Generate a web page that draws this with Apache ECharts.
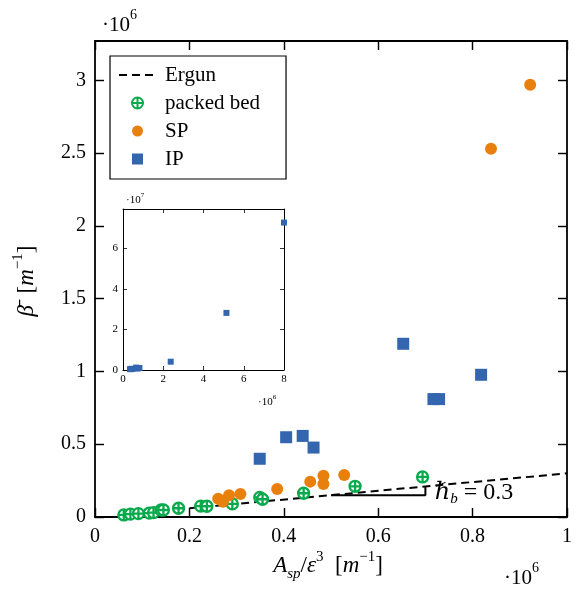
<!DOCTYPE html>
<html><head><meta charset="utf-8">
<script src="https://cdn.jsdelivr.net/npm/echarts@6/dist/echarts.min.js"></script>
<style>html,body{margin:0;padding:0;background:#fff}#c{width:575px;height:592px}</style>
</head><body><div id="c"></div>
<script>
// ---- data (main plot units: x ×10^6, y ×10^6) ----
const packedX = [0.061, 0.075, 0.092, 0.115, 0.124, 0.140, 0.145, 0.177, 0.224, 0.237, 0.291, 0.349, 0.355, 0.442, 0.551, 0.694];
const packedY = [0.014, 0.020, 0.023, 0.027, 0.030, 0.048, 0.048, 0.060, 0.075, 0.074, 0.090, 0.135, 0.122, 0.163, 0.211, 0.275];
const spX = [0.261, 0.271, 0.284, 0.308, 0.386, 0.456, 0.484, 0.484, 0.528, 0.839, 0.922];
const spY = [0.126, 0.105, 0.149, 0.158, 0.193, 0.243, 0.284, 0.227, 0.289, 2.53, 2.97];
const ipX = [0.349, 0.405, 0.440, 0.463, 0.653, 0.717, 0.729, 0.818];
const ipY = [0.400, 0.548, 0.557, 0.477, 1.19, 0.81, 0.81, 0.977];
// inset extra IP points (x ×10^6, y ×10^7)
const insetExtraX = [2.37, 5.14, 8.0];
const insetExtraY = [0.41, 2.82, 7.28];
// Ergun line and slope triangle
const ergunX = [0.2, 1.0];
const ergunY = [0.06, 0.30];
const slopeX = [0.5, 0.7, 0.7];
const slopeY = [0.15, 0.15, 0.21];
const slopeLabelPos = [0.72, 0.168];
// ticks
const mainXTicks = [0, 0.2, 0.4, 0.6, 0.8, 1];
const mainYTicks = [0, 0.5, 1, 1.5, 2, 2.5, 3];
const insetXTicks = [0, 2, 4, 6, 8];
const insetYTicks = [0, 2, 4, 6];
const legendNames = ['Ergun', 'packed bed', 'SP', 'IP'];

const serif = "'Liberation Serif','DejaVu Serif',serif";
const zip = (a, b) => a.map((v, i) => [v, b[i]]);
const insetIP = zip(ipX, ipY.map(v => v / 10)).concat(zip(insetExtraX, insetExtraY));

function mkAxis(gridIndex, pos, min, max, ticks, showLabel, fs, tl, lw, margin) {
  return {
    type: 'value', gridIndex, position: pos, min, max,
    axisLine: { show: true, onZero: false, lineStyle: { color: '#000', width: lw } },
    axisTick: { show: true, inside: true, length: tl, customValues: ticks, lineStyle: { color: '#000', width: lw * 0.8 } },
    axisLabel: { show: showLabel, customValues: ticks, fontSize: fs, fontFamily: serif, color: '#000', margin },
    splitLine: { show: false }
  };
}

const packedSymbol = 'path://M0,-10 A10,10 0 1,1 0,10 A10,10 0 1,1 0,-10 Z M-10,0 L10,0 M0,-10 L0,10';
const squareSymbol = 'path://M0,0 L10,0 L10,10 L0,10 Z';
const green = '#0aaa4c', orange = '#e8800e', blue = '#3366ae';

const chart = echarts.init(document.getElementById('c'), null, { renderer: 'canvas' });
chart.setOption({
  animation: false,
  backgroundColor: '#fff',
  grid: [
    { left: 95, right: 4, top: 41, bottom: 75 },
    { left: 123, top: 209, width: 161, height: 161, show: true, backgroundColor: '#fff', borderWidth: 0, z: 5 }
  ],
  xAxis: [
    mkAxis(0, 'bottom', 0, 1, mainXTicks, true, 20, 9, 1.8, 10),
    mkAxis(0, 'top', 0, 1, mainXTicks, false, 20, 9, 1.8, 10),
    Object.assign(mkAxis(1, 'bottom', 0, 8, insetXTicks, true, 11, 4, 1, 4), { z: 6 }),
    Object.assign(mkAxis(1, 'top', 0, 8, insetXTicks, false, 11, 4, 1, 4), { z: 6 })
  ],
  yAxis: [
    mkAxis(0, 'left', 0, 3.27, mainYTicks, true, 20, 9, 1.8, 9),
    mkAxis(0, 'right', 0, 3.27, mainYTicks, false, 20, 9, 1.8, 9),
    Object.assign(mkAxis(1, 'left', 0, 7.95, insetYTicks, true, 11, 4, 1, 5), { z: 6 }),
    Object.assign(mkAxis(1, 'right', 0, 7.95, insetYTicks, false, 11, 4, 1, 5), { z: 6 })
  ],
  legend: {
    data: [
      { name: legendNames[0], itemStyle: { opacity: 0, color: 'transparent', borderWidth: 0 } },
      { name: legendNames[1] },
      { name: legendNames[2] },
      { name: legendNames[3], icon: squareSymbol }
    ],
    orient: 'vertical', left: 110, top: 56,
    itemWidth: 37, itemHeight: 11, itemGap: 6,
    padding: [8, 26, 9, 8],
    borderColor: '#000', borderWidth: 1.2, borderRadius: 0, backgroundColor: '#fff',
    textStyle: { fontFamily: serif, fontSize: 21, color: '#000', lineHeight: 22, padding: [0, 0, 0, 4] },
    lineStyle: { width: 2 },
    z: 10
  },
  series: [
    { name: 'Ergun', type: 'line', xAxisIndex: 0, yAxisIndex: 0, data: zip(ergunX, ergunY),
      symbol: 'none', lineStyle: { color: '#000', width: 2, type: [8, 5] }, itemStyle: { color: '#000' }, z: 2 },
    { name: 'packed bed', type: 'scatter', xAxisIndex: 0, yAxisIndex: 0, data: zip(packedX, packedY),
      symbol: packedSymbol, symbolSize: 11, itemStyle: { color: '#fff', borderColor: green, borderWidth: 2.3, opacity: 1 }, z: 3 },
    { name: 'SP', type: 'scatter', xAxisIndex: 0, yAxisIndex: 0, data: zip(spX, spY),
      symbol: 'circle', symbolSize: 12, itemStyle: { color: orange, opacity: 1 }, z: 3 },
    { name: 'IP', type: 'scatter', xAxisIndex: 0, yAxisIndex: 0, data: zip(ipX, ipY),
      symbol: 'rect', symbolSize: 12, itemStyle: { color: blue, opacity: 1 }, z: 3 },
    { name: 'slope', type: 'line', xAxisIndex: 0, yAxisIndex: 0, data: zip(slopeX, slopeY),
      symbol: 'none', lineStyle: { color: '#000', width: 2 }, z: 2 },
    { name: 'slopeLabel', type: 'scatter', xAxisIndex: 0, yAxisIndex: 0, data: [slopeLabelPos],
      symbolSize: 0, silent: true, z: 4, itemStyle: { opacity: 1, color: '#000' },
      label: { show: true, position: 'right', distance: 0, color: '#000', opacity: 1,
        formatter: '{h|ℏ}{s|b}{t| = 0.3}',
        rich: {
          h: { fontFamily: serif, fontStyle: 'italic', fontSize: 24, color: '#000', lineHeight: 28 },
          s: { fontFamily: serif, fontStyle: 'italic', fontSize: 15, color: '#000', lineHeight: 28, verticalAlign: 'bottom' },
          t: { fontFamily: serif, fontSize: 24, color: '#000', lineHeight: 28 }
        } } },
    { name: 'IP inset', type: 'scatter', xAxisIndex: 2, yAxisIndex: 2, data: insetIP,
      symbol: 'rect', symbolSize: 6, itemStyle: { color: blue, opacity: 1 }, clip: false, z: 7 }
  ],
  graphic: [
    { type: 'text', left: 102, top: 8, z: 20, style: { text: '{a|·10}{b|6}', rich: {
      a: { fontFamily: serif, fontSize: 21, lineHeight: 28, verticalAlign: 'bottom' },
      b: { fontFamily: serif, fontSize: 14, lineHeight: 28, verticalAlign: 'top' } } } },
    { type: 'text', left: 504, top: 561, z: 20, style: { text: '{a|·10}{b|6}', rich: {
      a: { fontFamily: serif, fontSize: 21, lineHeight: 28, verticalAlign: 'bottom' },
      b: { fontFamily: serif, fontSize: 14, lineHeight: 28, verticalAlign: 'top' } } } },
    { type: 'text', left: 126, top: 192, z: 20, style: { text: '{a|·10}{b|7}', rich: {
      a: { fontFamily: serif, fontSize: 11, lineHeight: 14, verticalAlign: 'bottom' },
      b: { fontFamily: serif, fontSize: 7, lineHeight: 14, verticalAlign: 'top' } } } },
    { type: 'text', left: 258, top: 394, z: 20, style: { text: '{a|·10}{b|6}', rich: {
      a: { fontFamily: serif, fontSize: 11, lineHeight: 14, verticalAlign: 'bottom' },
      b: { fontFamily: serif, fontSize: 7, lineHeight: 14, verticalAlign: 'top' } } } },
    { type: 'text', x: 328, y: 566, z: 20, style: {
      text: '{i|A}{s|sp}{n|/}{i|ε}{p|3}{n|  [}{i|m}{p|−1}{n|]}', align: 'center', verticalAlign: 'middle',
      rich: {
        i: { fontFamily: serif, fontStyle: 'italic', fontSize: 23, lineHeight: 32 },
        n: { fontFamily: serif, fontSize: 23, lineHeight: 32 },
        s: { fontFamily: serif, fontStyle: 'italic', fontSize: 15, lineHeight: 32, verticalAlign: 'bottom' },
        p: { fontFamily: serif, fontSize: 15, lineHeight: 32, verticalAlign: 'top' }
      } } },
    { type: 'text', x: 27, y: 281, rotation: Math.PI / 2, z: 20, style: {
      text: '{i|β̄}{n|  [}{i|m}{p|−1}{n|]}', align: 'center', verticalAlign: 'middle',
      rich: {
        i: { fontFamily: serif, fontStyle: 'italic', fontSize: 23, lineHeight: 32 },
        n: { fontFamily: serif, fontSize: 23, lineHeight: 32 },
        p: { fontFamily: serif, fontSize: 15, lineHeight: 32, verticalAlign: 'top' }
      } } }
  ]
});
</script>
</body></html>
